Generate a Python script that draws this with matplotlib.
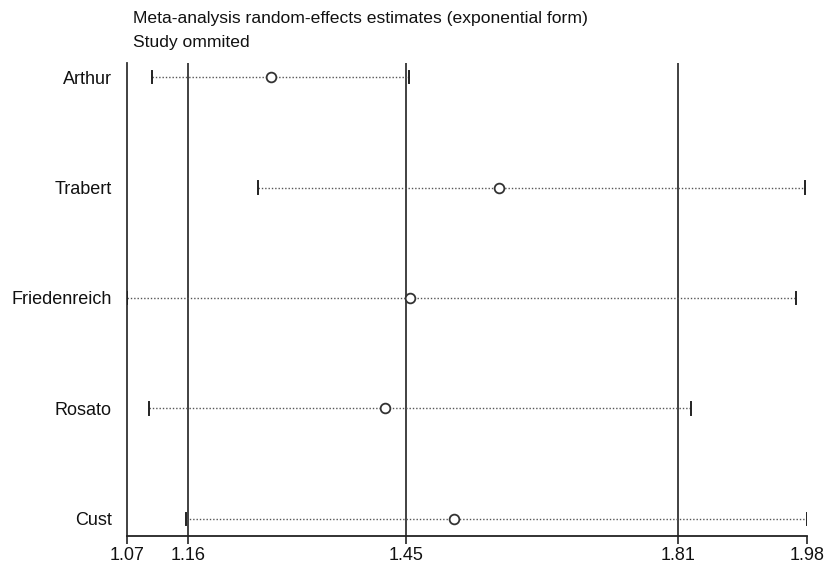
import matplotlib
matplotlib.use("Agg")
import matplotlib.pyplot as plt

studies = ["Arthur", "Trabert", "Friedenreich", "Rosato", "Cust"]
estimate = [1.2704, 1.5724, 1.4553, 1.4214, 1.5128]
lower = [1.1131, 1.2535, 1.0796, 1.1087, 1.1577]
upper = [1.4532, 1.9778, 1.9659, 1.8268, 1.9810]
overall = [1.16, 1.45, 1.81]  # lower CI, estimate, upper CI
tick_labels = ["1.07", "1.16", "1.45", "1.81", "1.98"]

plt.rcParams['font.family'] = ['Liberation Sans', 'DejaVu Sans']

fig = plt.figure(figsize=(8.34, 5.67), dpi=100)
ax = fig.add_axes([0.1523, 0.0547, 0.9676 - 0.1523, 0.8889 - 0.0547])

n = len(studies)
ypos = [n - i for i in range(n)]

for v in overall:
    ax.axvline(v, color="#333333", lw=1.3, zorder=1)

for y, lo, hi, est in zip(ypos, lower, upper, estimate):
    ax.plot([lo, hi], [y, y], linestyle=(0, (1, 1.4)), color="#555555", lw=1.0, zorder=2)
    ax.plot([lo, lo], [y - 0.055, y + 0.055], color="#222222", lw=1.4, zorder=3)
    ax.plot([hi, hi], [y - 0.055, y + 0.055], color="#222222", lw=1.4, zorder=3)
    ax.plot(est, y, marker="o", ms=7, mfc="white", mec="#333333", mew=1.3, zorder=4)

xmin, xmax = min(lower), max(upper)
ax.set_xlim(xmin, xmax)
ax.set_ylim(0.846, 5.127)

ax.set_xticks([xmin] + overall + [xmax])
ax.set_xticklabels(tick_labels)
ax.set_yticks(ypos)
ax.set_yticklabels(studies)

for s in ["top", "right"]:
    ax.spines[s].set_visible(False)
ax.spines["left"].set_color("#333333")
ax.spines["bottom"].set_color("#222222")
ax.spines["left"].set_linewidth(1.3)
ax.spines["bottom"].set_linewidth(1.3)

ax.tick_params(axis="y", length=0, pad=11, labelsize=13, colors="#111111")
ax.tick_params(axis="x", length=6, width=1.2, pad=2, labelsize=13, colors="#222222")
for lab in ax.get_xticklabels():
    lab.set_color("#111111")

fig.text(133 / 834, 1 - 18 / 567, "Meta-analysis random-effects estimates (exponential form)",
         fontsize=12.6, va="center", ha="left", color="#111111")
fig.text(133 / 834, 1 - 42 / 567, "Study ommited",
         fontsize=12.6, va="center", ha="left", color="#111111")

fig.savefig("out.png", dpi=100)
